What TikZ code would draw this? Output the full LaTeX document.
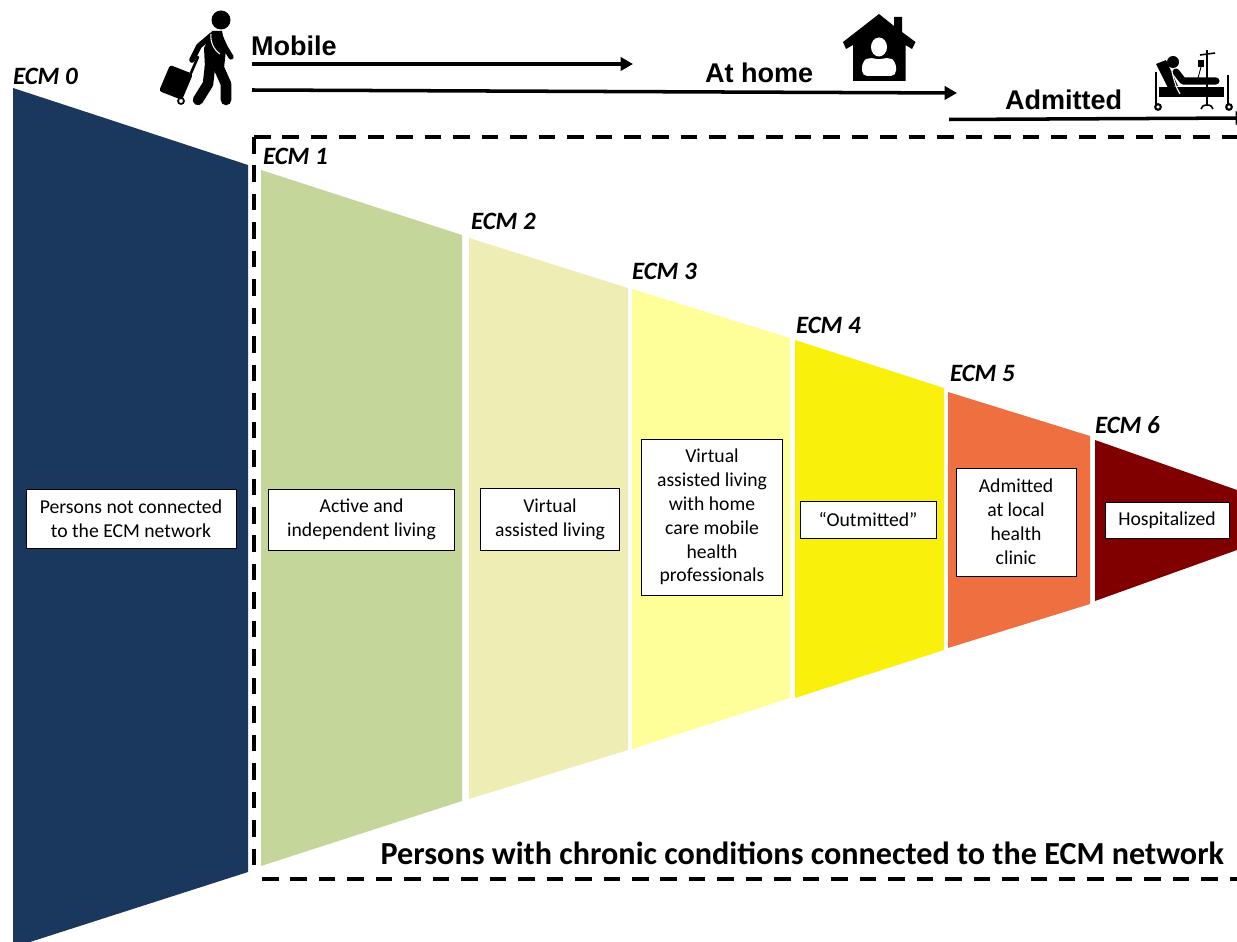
\documentclass[tikz,border=0pt]{standalone}
\usepackage{fontspec}
\setmainfont{Carlito}
\newfontfamily\arialfont{Liberation Sans}
\usetikzlibrary{arrows.meta,positioning}
\definecolor{ecmzero}{HTML}{1A375E}
\definecolor{ecmone}{HTML}{C5D69B}
\definecolor{ecmtwo}{HTML}{EDEDB4}
\definecolor{ecmthree}{HTML}{FFFF99}
\definecolor{ecmfour}{HTML}{F9F00C}
\definecolor{ecmfive}{HTML}{EE7040}
\definecolor{ecmsix}{HTML}{800000}
\begin{document}
\begin{tikzpicture}[x=0.02cm,y=-0.02cm,>={Stealth[length=7pt,width=7.5pt,inset=0pt]},
    every node/.style={inner sep=0pt,outer sep=0pt},
    textbox/.style={draw=black,line width=0.5pt,fill=white,align=center,font=\fontsize{11.2}{13.6}\selectfont},
    ecmlabel/.style={anchor=west,font=\fontsize{14.2}{16}\selectfont\bfseries\itshape},
    stagelabel/.style={anchor=west,font=\fontsize{15.4}{18}\selectfont\arialfont\bfseries},
    timeline/.style={line width=2pt},
    frameline/.style={line width=2.6pt,dash pattern=on 9.4pt off 6.8pt},
    icon/.style={fill=black,draw=none}]
\useasboundingbox (0,0) rectangle (1237,942);
\clip (0,0) rectangle (1237,942);
\fill[ecmzero] (13,88) -- (248,165) -- (248,872) -- (30,942) -- (13,942) -- cycle;
\fill[ecmone] (261,170) -- (462,235) -- (462,801) -- (261,866) -- cycle;
\fill[ecmtwo] (469,238) -- (628,288) -- (628,750) -- (469,799) -- cycle;
\fill[ecmthree] (632,289) -- (790,338) -- (790,698) -- (632,749) -- cycle;
\fill[ecmfour] (795,340) -- (944,388) -- (944,650) -- (795,698) -- cycle;
\fill[ecmfive] (948,392) -- (1090,436) -- (1090,604) -- (948,648) -- cycle;
\fill[ecmsix] (1095,440) -- (1237,490) -- (1237,550) -- (1095,601) -- cycle;
\node[ecmlabel] (lab_0) at (13,76) {ECM 0};
\node[ecmlabel] (lab_1) at (263,156) {ECM 1};
\node[ecmlabel] (lab_2) at (471,221) {ECM 2};
\node[ecmlabel] (lab_3) at (632,271) {ECM 3};
\node[ecmlabel] (lab_4) at (796,325) {ECM 4};
\node[ecmlabel] (lab_5) at (950,373) {ECM 5};
\node[ecmlabel] (lab_6) at (1095,425) {ECM 6};
\node[textbox,minimum width=4.2cm,minimum height=1.18cm] (box_0) at (131,518.5) {Persons not connected\\to the ECM network};
\node[textbox,minimum width=3.71cm,minimum height=1.22cm] (box_1) at (361.5,519.5) {Active and\\independent living};
\node[textbox,minimum width=2.77cm,minimum height=1.24cm] (box_2) at (550,519) {Virtual\\assisted living};
\node[textbox,minimum width=2.83cm,minimum height=3.12cm] (box_3) at (712,517) {Virtual\\assisted living\\with home\\care mobile\\health\\professionals};
\node[textbox,minimum width=2.72cm,minimum height=0.74cm] (box_4) at (868,519.5) {``Outmitted''};
\node[textbox,minimum width=2.4cm,minimum height=2.16cm] (box_5) at (1016,522) {Admitted\\at local\\health\\clinic};
\node[textbox,minimum width=2.48cm,minimum height=0.72cm] (box_6) at (1167,520) {Hospitalized};
\node[anchor=east,font=\fontsize{18.3}{22}\selectfont\bfseries] (title) at (1224,853) {Persons with chronic conditions connected to the ECM network};
\coordinate (frame_a) at (1237,137);
\coordinate (frame_b) at (254,137);
\coordinate (frame_c) at (254,873);
\coordinate (frame_d) at (262,879);
\coordinate (frame_e) at (1237,879);
\draw[frameline] (frame_b) -- (frame_a);
\draw[frameline] (frame_b) -- (frame_c);
\draw[frameline] (frame_d) -- (frame_e);
\node[stagelabel] (mobile) at (251,46) {Mobile};
\node[stagelabel] (home) at (705,73) {At home};
\node[stagelabel] (admitted) at (1005,100) {Admitted};
\coordinate (mob_a) at (252,64);
\coordinate (mob_b) at (633,64);
\coordinate (hom_a) at (252,90);
\coordinate (hom_b) at (957,93);
\coordinate (adm_a) at (949,119.5);
\coordinate (adm_b) at (1248,118);
\draw[timeline,->] (mob_a) -- (mob_b);
\draw[timeline,->] (hom_a) -- (hom_b);
\draw[timeline,->] (adm_a) -- (adm_b);
% traveller
\fill[icon] (221,20) circle (9.5);
\fill[icon] (212,31) -- (222,31) -- (226,50) -- (224,68) -- (205,68) -- (204,48) -- cycle;
\draw[line width=3.2pt,line cap=round,line join=round] (212,35) -- (199,46) -- (192,60);
\draw[line width=3pt,line cap=round,line join=round] (220,36) -- (225,47) -- (231,57);
\draw[white,line width=0.6pt] (211,34) .. controls (210,42) and (214,50) .. (220,54);
\draw[line width=6pt,line cap=round,line join=round] (210,66) -- (208,84) -- (198,100);
\draw[line width=6pt,line cap=round,line join=round] (218,66) -- (226,84) -- (226,100);
\draw[line width=1.5pt,line cap=round] (191,73) -- (198,57);
\fill[icon,rounded corners=1.5pt] (170,65) -- (193,74) -- (182,100) -- (159,91) -- cycle;
\draw[line width=1pt,fill=white] (181,101) circle (3);
% house
\fill[icon] (879,14) -- (894,26) -- (894,17) -- (902,17) -- (902,32) -- (915.5,42) -- (912,49) -- (905.5,45) -- (905.5,81) -- (853,81) -- (853,45) -- (846,49) -- (843,42) -- cycle;
\fill[white] (879,47) ellipse (8 and 9.5);
\fill[white,rounded corners=3pt] (862,76) -- (862,62) -- (869,57) -- (879,60) -- (889,57) -- (896,62) -- (896,76) -- cycle;
% patient in bed
\fill[icon] (1159,87) rectangle (1224,97);
\draw[line width=1.4pt] (1156,72) -- (1156,105);
\draw[line width=1.4pt] (1228,75) -- (1228,105);
\draw[line width=1.2pt,fill=white] (1158,107) circle (2.8);
\draw[line width=1.2pt,fill=white] (1229,107) circle (2.8);
\fill[icon] (1173,62) circle (6);
\fill[icon] (1156,64) -- (1166,60) -- (1178,86) -- (1168,88) -- cycle;
\draw[line width=4pt,line cap=round,line join=round] (1176,72) -- (1183,81) -- (1216,81);
\draw[white,line width=0.6pt] (1172,72) .. controls (1174,80) and (1176,88) .. (1180,94);
\draw[line width=0.9pt] (1207,50) -- (1207,106);
\draw[line width=0.9pt] (1200,55) -- (1215,53);
\fill[icon] (1198,60) rectangle (1204,67);
\draw[line width=0.5pt] (1201,67) -- (1198,78) -- (1190,82);
\draw[line width=0.9pt] (1201,109) arc (180:360:6 and 4);
\end{tikzpicture}
\end{document}
